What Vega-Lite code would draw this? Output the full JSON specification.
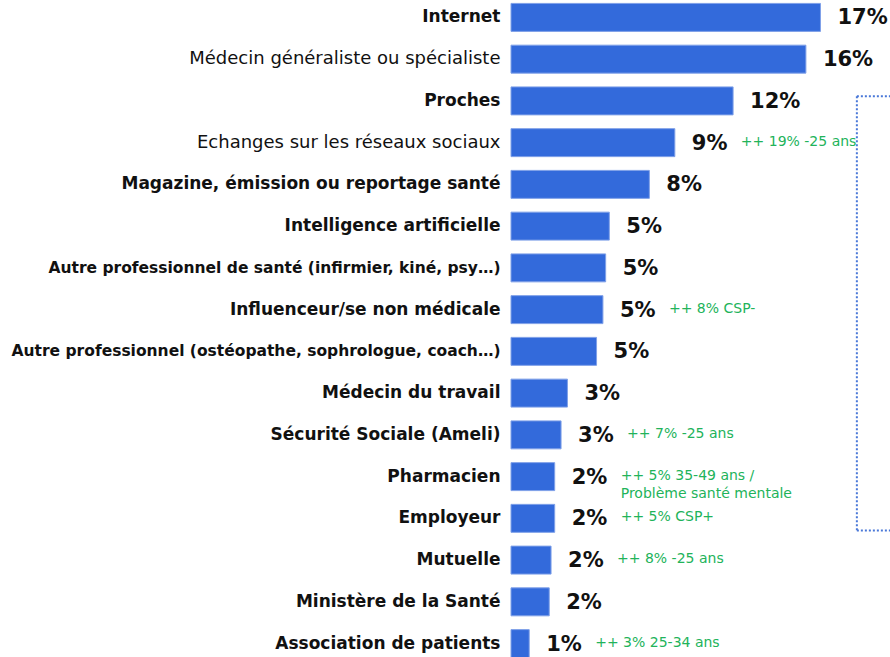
{
  "$schema": "https://vega.github.io/schema/vega-lite/v6.json",
  "autosize": {"type": "none"},
  "width": 379,
  "height": 655,
  "padding": {"left": 511, "top": 3, "right": 0, "bottom": 0},
  "background": "white",
  "config": {"view": {"stroke": null}, "font": "DejaVu Sans"},
  "datasets": {
    "bars": [
      {"label": "Internet", "value": 17.0, "pct": "17%", "note": ""},
      {"label": "Médecin généraliste ou spécialiste", "value": 16.2, "pct": "16%", "note": ""},
      {"label": "Proches", "value": 12.2, "pct": "12%", "note": ""},
      {"label": "Echanges sur les réseaux sociaux", "value": 9.0, "pct": "9%", "note": "++ 19% -25 ans"},
      {"label": "Magazine, émission ou reportage santé", "value": 7.6, "pct": "8%", "note": ""},
      {"label": "Intelligence artificielle", "value": 5.4, "pct": "5%", "note": ""},
      {"label": "Autre professionnel de santé (infirmier, kiné, psy…)", "value": 5.2, "pct": "5%", "note": ""},
      {"label": "Influenceur/se non médicale", "value": 5.05, "pct": "5%", "note": "++ 8% CSP-"},
      {"label": "Autre professionnel (ostéopathe, sophrologue, coach…)", "value": 4.7, "pct": "5%", "note": ""},
      {"label": "Médecin du travail", "value": 3.1, "pct": "3%", "note": ""},
      {"label": "Sécurité Sociale (Ameli)", "value": 2.75, "pct": "3%", "note": "++ 7% -25 ans"},
      {"label": "Pharmacien", "value": 2.4, "pct": "2%", "note": "++ 5% 35-49 ans /|Problème santé mentale"},
      {"label": "Employeur", "value": 2.4, "pct": "2%", "note": "++ 5% CSP+"},
      {"label": "Mutuelle", "value": 2.2, "pct": "2%", "note": "++ 8% -25 ans"},
      {"label": "Ministère de la Santé", "value": 2.1, "pct": "2%", "note": ""},
      {"label": "Association de patients", "value": 1.0, "pct": "1%", "note": "++ 3% 25-34 ans"}
    ],
    "boxside": [
      {"label": "Proches", "label2": "Employeur", "x": 19.0}
    ],
    "boxtop": [
      {"label": "Proches", "x": 19.0, "x2": 22.0}
    ],
    "boxbottom": [
      {"label": "Employeur", "x": 19.0, "x2": 22.0}
    ]
  },
  "layer": [
    {
      "data": {"name": "bars"},
      "mark": {"type": "bar", "color": "#336ADB", "stroke": "#7FA0E8", "strokeWidth": 1},
      "encoding": {
        "y": {
          "field": "label", "type": "nominal", "sort": null,
          "scale": {"paddingInner": 0.33, "paddingOuter": 0.01},
          "axis": {
            "title": null, "domain": false, "ticks": false, "labelPadding": 11,
            "labelColor": "#111111", "labelLimit": 520,
            "labelFontSize": {
              "condition": [
                {"test": "indexof(datum.value, 'Autre professionnel') == 0", "value": 15.5},
                {"test": "indexof(['Echanges sur les réseaux sociaux', 'Médecin généraliste ou spécialiste'], datum.value) >= 0", "value": 18}
              ],
              "value": 17
            },
            "labelFontWeight": {
              "condition": {"test": "indexof(['Echanges sur les réseaux sociaux', 'Médecin généraliste ou spécialiste'], datum.value) >= 0", "value": "normal"},
              "value": "bold"
            }
          }
        },
        "x": {"field": "value", "type": "quantitative", "scale": {"domain": [0, 20.82], "nice": false, "zero": true}, "axis": null}
      }
    },
    {
      "data": {"name": "bars"},
      "mark": {"type": "text", "align": "left", "baseline": "middle", "dx": 17, "dy": 1, "fontSize": 21, "fontWeight": "bold", "color": "#111111"},
      "encoding": {
        "y": {"field": "label", "type": "nominal", "sort": null},
        "x": {"field": "value", "type": "quantitative"},
        "text": {"field": "pct"}
      }
    },
    {
      "data": {"name": "bars"},
      "mark": {"type": "text", "align": "left", "baseline": "top", "dx": 66, "dy": -8, "fontSize": 14, "color": "#22B35A", "lineBreak": "|", "lineHeight": 18},
      "encoding": {
        "y": {"field": "label", "type": "nominal", "sort": null},
        "x": {"field": "value", "type": "quantitative"},
        "text": {"field": "note"}
      }
    },
    {
      "data": {"name": "boxside"},
      "mark": {"type": "rule", "color": "#4A78D8", "strokeWidth": 2, "strokeDash": [2, 2]},
      "encoding": {
        "y": {"field": "label", "type": "nominal", "sort": null, "bandPosition": 0.33},
        "y2": {"field": "label2", "bandPosition": 0.93},
        "x": {"field": "x", "type": "quantitative"}
      }
    },
    {
      "data": {"name": "boxtop"},
      "mark": {"type": "rule", "color": "#4A78D8", "strokeWidth": 2, "strokeDash": [2, 2]},
      "encoding": {
        "y": {"field": "label", "type": "nominal", "sort": null, "bandPosition": 0.33},
        "x": {"field": "x", "type": "quantitative"},
        "x2": {"field": "x2"}
      }
    },
    {
      "data": {"name": "boxbottom"},
      "mark": {"type": "rule", "color": "#4A78D8", "strokeWidth": 2, "strokeDash": [2, 2]},
      "encoding": {
        "y": {"field": "label", "type": "nominal", "sort": null, "bandPosition": 0.93},
        "x": {"field": "x", "type": "quantitative"},
        "x2": {"field": "x2"}
      }
    }
  ]
}
